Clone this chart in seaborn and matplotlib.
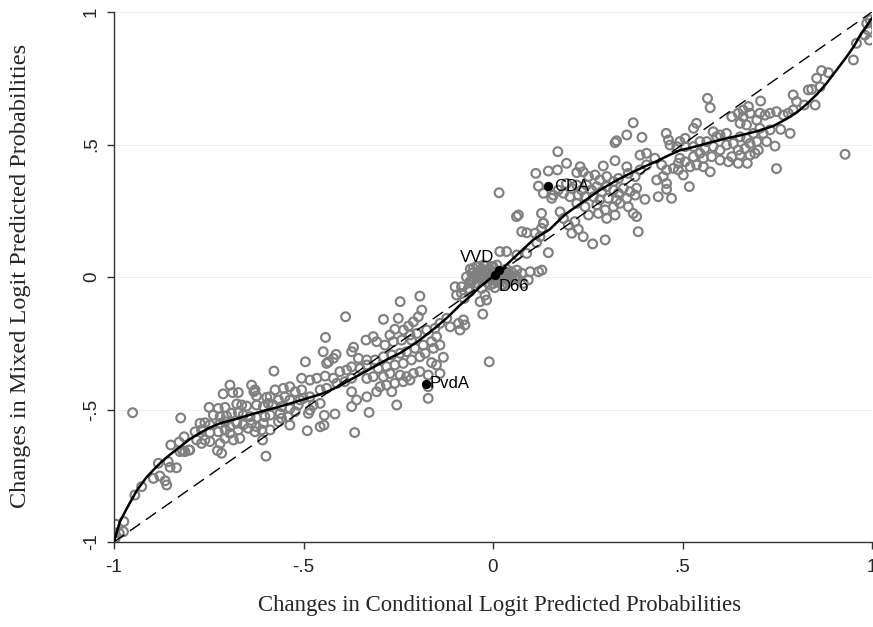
import matplotlib
matplotlib.use("Agg")
import matplotlib.pyplot as plt
import seaborn as sns
import pandas as pd

# ---------------- data ----------------
# Changes in Conditional Logit predicted probabilities (x)
cl_change = [
    # lower-left tail
    -0.951, -0.824, -0.995, -0.974, -0.975, -0.986, -0.997, -0.945, -0.927, -0.896,
    -0.879, -0.865, -0.861, -0.883, -0.857, -0.835, -0.852, -0.850, -0.828, -0.815,
    -0.819, -0.802, -0.826,
    # band -0.8 .. -0.6
    -0.712, -0.687, -0.672, -0.631, -0.624, -0.597, -0.749, -0.725, -0.707, -0.676,
    -0.663, -0.650, -0.624, -0.606, -0.593, -0.738, -0.720, -0.703, -0.690, -0.672,
    -0.659, -0.641, -0.624, -0.602, -0.773, -0.760, -0.747, -0.720, -0.707, -0.694,
    -0.676, -0.659, -0.637, -0.624, -0.606, -0.786, -0.769, -0.747, -0.725, -0.707,
    -0.694, -0.672, -0.646, -0.628, -0.610, -0.782, -0.760, -0.747, -0.720, -0.707,
    -0.685, -0.668, -0.608, -0.813, -0.800, -0.727, -0.716, -0.599, -0.769,
    # band -0.6 .. -0.33
    -0.389, -0.335, -0.442, -0.448, -0.414, -0.421, -0.434, -0.439, -0.368, -0.373,
    -0.355, -0.333, -0.373, -0.351, -0.333, -0.333, -0.495, -0.578, -0.505, -0.483,
    -0.465, -0.443, -0.421, -0.404, -0.386, -0.412, -0.391, -0.373, -0.373, -0.360,
    -0.333, -0.373, -0.327, -0.417, -0.445, -0.456, -0.446, -0.490, -0.365, -0.694,
    -0.637, -0.628, -0.588, -0.575, -0.553, -0.536, -0.522, -0.505, -0.549, -0.566,
    -0.536, -0.509, -0.483, -0.580, -0.558, -0.536, -0.514, -0.588, -0.562, -0.540,
    -0.522, -0.487, -0.566, -0.536, -0.588, -0.558, -0.500, -0.474, -0.456, -0.439,
    -0.456, -0.483,
    # band -0.33 .. 0
    -0.193, -0.245, -0.289, -0.250, -0.188, -0.197, -0.210, -0.223, -0.236, -0.259,
    -0.272, -0.316, -0.307, -0.285, -0.263, -0.241, -0.219, -0.201, -0.175, -0.153,
    -0.140, -0.122, -0.113, -0.091, -0.078, -0.074, -0.087, -0.149, -0.162, -0.184,
    -0.206, -0.228, -0.245, -0.267, -0.289, -0.311, -0.157, -0.140, -0.179, -0.193,
    -0.215, -0.237, -0.259, -0.281, -0.303, -0.316, -0.289, -0.272, -0.245, -0.228,
    -0.210, -0.162, -0.149, -0.131, -0.140, -0.171, -0.219, -0.237, -0.259, -0.281,
    -0.298, -0.307, -0.267, -0.193, -0.171, -0.171, -0.254, -0.010, -0.027, -0.215,
    # centre
    -0.100, -0.083, -0.096, -0.076, -0.061, -0.052, -0.039, -0.030, -0.021, -0.017,
    -0.061, -0.030, -0.008, 0.023, 0.036, 0.049, 0.063, 0.076, 0.098, 0.120,
    0.129, 0.063, 0.089, 0.076, 0.089, 0.133, 0.111, 0.036, 0.018, -0.021,
    -0.004, -0.043, -0.052, -0.056, -0.052, -0.043, -0.034, -0.065, -0.083, -0.034,
    -0.056, 0.058, 0.049, 0.036, 0.093, 0.080,
    -0.040, -0.030, -0.020, -0.010, 0.000, 0.010, -0.040, -0.030, -0.020, -0.010,
    0.000, 0.020, 0.030, 0.040, 0.050, 0.060, -0.030, -0.020, -0.010, 0.000,
    0.010, 0.020, 0.030, 0.040, 0.050, -0.015, 0.000, 0.015, 0.025, -0.045,
    0.065, 0.035, -0.025, 0.005, -0.060, -0.070,
    # band 0 .. 0.5
    0.370, 0.353, 0.326, 0.322, 0.393, 0.457, 0.463, 0.467, 0.485, 0.171,
    0.194, 0.113, 0.146, 0.170, 0.120, 0.133, 0.159, 0.155, 0.322, 0.291,
    0.230, 0.238, 0.221, 0.252, 0.269, 0.282, 0.300, 0.318, 0.331, 0.353,
    0.357, 0.375, 0.388, 0.405, 0.388, 0.405, 0.427, 0.445, 0.458, 0.476,
    0.449, 0.432, 0.458, 0.458, 0.436, 0.471, 0.401, 0.194, 0.208, 0.221,
    0.234, 0.247, 0.260, 0.274, 0.287, 0.300, 0.318, 0.331, 0.344, 0.362,
    0.375, 0.379, 0.353, 0.326, 0.304, 0.282, 0.265, 0.243, 0.225, 0.203,
    0.186, 0.172, 0.221, 0.243, 0.274, 0.296, 0.318, 0.335, 0.357, 0.252,
    0.278, 0.300, 0.322, 0.370, 0.379, 0.383, 0.296, 0.263, 0.225, 0.238,
    0.208, 0.199, 0.216, 0.186, 0.177, 0.128, 0.133, 0.128, 0.124, 0.146,
    0.115, 0.062, 0.067, 0.016,
    # band 0.5 .. 1
    0.986, 0.990, 0.981, 0.993, 0.995, 0.959, 0.951, 0.929, 0.867, 0.885,
    0.854, 0.863, 0.841, 0.832, 0.850, 0.821, 0.801, 0.792, 0.566, 0.573,
    0.706, 0.784, 0.759, 0.744, 0.748, 0.671, 0.647, 0.573, 0.555, 0.518,
    0.529, 0.537, 0.507, 0.493, 0.546, 0.559, 0.581, 0.590, 0.581, 0.599,
    0.616, 0.630, 0.647, 0.660, 0.674, 0.678, 0.660, 0.652, 0.669, 0.696,
    0.704, 0.718, 0.731, 0.748, 0.766, 0.779, 0.792, 0.704, 0.687, 0.669,
    0.652, 0.634, 0.616, 0.599, 0.577, 0.555, 0.529, 0.507, 0.489, 0.489,
    0.502, 0.520, 0.537, 0.621, 0.630, 0.647, 0.665, 0.678, 0.696, 0.700,
    0.691, 0.678, 0.713, 0.731, 0.722, 0.652, 0.599, 0.493, 0.546, 0.564,
    0.507, 0.529,
]
# Changes in Mixed Logit predicted probabilities (y)
ml_change = [
    -0.512, -0.532, -0.933, -0.923, -0.961, -0.967, -0.986, -0.823, -0.791, -0.760,
    -0.751, -0.769, -0.785, -0.703, -0.697, -0.720, -0.718, -0.634, -0.623, -0.603,
    -0.655, -0.653, -0.659,
    -0.441, -0.436, -0.436, -0.433, -0.449, -0.454, -0.492, -0.496, -0.492, -0.479,
    -0.483, -0.487, -0.483, -0.489, -0.477, -0.521, -0.527, -0.525, -0.514, -0.512,
    -0.521, -0.527, -0.530, -0.527, -0.552, -0.550, -0.558, -0.552, -0.546, -0.565,
    -0.552, -0.558, -0.552, -0.565, -0.552, -0.584, -0.577, -0.587, -0.584, -0.577,
    -0.590, -0.577, -0.571, -0.584, -0.577, -0.615, -0.615, -0.621, -0.628, -0.609,
    -0.615, -0.609, -0.615, -0.659, -0.653, -0.655, -0.665, -0.676, -0.628,
    -0.150, -0.238, -0.228, -0.282, -0.292, -0.307, -0.320, -0.326, -0.265, -0.282,
    -0.307, -0.313, -0.339, -0.345, -0.332, -0.383, -0.320, -0.355, -0.382, -0.389,
    -0.382, -0.374, -0.382, -0.357, -0.351, -0.401, -0.395, -0.382, -0.433, -0.464,
    -0.452, -0.489, -0.511, -0.517, -0.522, -0.565, -0.559, -0.580, -0.587, -0.408,
    -0.408, -0.426, -0.452, -0.426, -0.420, -0.414, -0.433, -0.426, -0.452, -0.464,
    -0.464, -0.464, -0.452, -0.483, -0.489, -0.496, -0.483, -0.521, -0.515, -0.527,
    -0.508, -0.515, -0.546, -0.559, -0.577, -0.533, -0.458, -0.483, -0.426, -0.420,
    -0.477, -0.502,
    -0.072, -0.093, -0.160, -0.156, -0.125, -0.150, -0.169, -0.185, -0.200, -0.197,
    -0.219, -0.225, -0.244, -0.257, -0.244, -0.238, -0.219, -0.213, -0.200, -0.194,
    -0.175, -0.156, -0.188, -0.175, -0.162, -0.181, -0.200, -0.225, -0.244, -0.257,
    -0.269, -0.282, -0.288, -0.294, -0.301, -0.313, -0.269, -0.257, -0.288, -0.301,
    -0.313, -0.326, -0.332, -0.338, -0.345, -0.376, -0.376, -0.364, -0.370, -0.376,
    -0.364, -0.323, -0.332, -0.303, -0.364, -0.370, -0.389, -0.395, -0.401, -0.408,
    -0.414, -0.433, -0.433, -0.357, -0.414, -0.458, -0.483, -0.320, -0.140, -0.238,
    -0.037, -0.037, -0.068, -0.081, -0.018, 0.001, 0.014, 0.026, -0.068, -0.087,
    -0.055, -0.043, -0.030, 0.014, -0.005, 0.020, 0.026, 0.014, 0.020, 0.020,
    0.026, 0.083, 0.089, 0.171, 0.167, 0.203, 0.165, 0.096, 0.096, 0.026,
    0.039, 0.039, 0.033, 0.014, -0.011, -0.024, 0.001, -0.043, -0.062, -0.093,
    -0.018, 0.001, -0.011, -0.024, -0.011, -0.024,
    0.040, 0.030, 0.040, 0.030, 0.040, 0.045, 0.020, 0.010, 0.020, 0.015,
    0.020, 0.010, 0.020, 0.010, 0.000, 0.005, -0.010, -0.005, 0.000, -0.010,
    0.000, -0.010, -0.005, -0.015, -0.010, -0.020, -0.025, -0.020, -0.030, 0.005,
    -0.005, 0.030, 0.045, -0.040, 0.030, 0.000,
    0.582, 0.536, 0.514, 0.507, 0.527, 0.542, 0.517, 0.498, 0.492, 0.473,
    0.429, 0.391, 0.400, 0.404, 0.343, 0.316, 0.309, 0.297, 0.439, 0.419,
    0.416, 0.397, 0.394, 0.379, 0.385, 0.366, 0.379, 0.360, 0.372, 0.416,
    0.391, 0.379, 0.404, 0.423, 0.460, 0.467, 0.448, 0.423, 0.404, 0.410,
    0.379, 0.366, 0.353, 0.331, 0.303, 0.297, 0.293, 0.353, 0.335, 0.347,
    0.328, 0.347, 0.328, 0.341, 0.322, 0.341, 0.328, 0.316, 0.335, 0.322,
    0.309, 0.335, 0.297, 0.291, 0.297, 0.291, 0.303, 0.303, 0.309, 0.303,
    0.316, 0.328, 0.278, 0.265, 0.272, 0.253, 0.265, 0.278, 0.265, 0.234,
    0.240, 0.221, 0.234, 0.240, 0.228, 0.171, 0.140, 0.125, 0.180, 0.152,
    0.165, 0.196, 0.209, 0.221, 0.246, 0.240, 0.203, 0.184, 0.152, 0.092,
    0.130, 0.228, 0.234, 0.318,
    0.957, 0.932, 0.913, 0.894, 0.970, 0.882, 0.819, 0.463, 0.779, 0.771,
    0.750, 0.718, 0.708, 0.706, 0.649, 0.649, 0.662, 0.687, 0.674, 0.639,
    0.664, 0.542, 0.557, 0.494, 0.409, 0.429, 0.429, 0.397, 0.416, 0.341,
    0.561, 0.580, 0.523, 0.511, 0.467, 0.485, 0.492, 0.529, 0.548, 0.536,
    0.542, 0.605, 0.618, 0.630, 0.643, 0.618, 0.605, 0.580, 0.574, 0.592,
    0.618, 0.611, 0.618, 0.624, 0.611, 0.618, 0.630, 0.561, 0.542, 0.523,
    0.529, 0.504, 0.498, 0.479, 0.454, 0.448, 0.454, 0.435, 0.429, 0.404,
    0.385, 0.416, 0.423, 0.435, 0.454, 0.479, 0.485, 0.504, 0.511, 0.479,
    0.467, 0.460, 0.542, 0.555, 0.511, 0.460, 0.441, 0.448, 0.511, 0.511,
    0.492, 0.492,
]

# Highlighted parties
party_names = ["CDA", "VVD", "D66", "PvdA"]
party_x = [0.146, 0.015, 0.004, -0.178]
party_y = [0.342, 0.026, 0.008, -0.402]

# Smoothed (lowess) curve
fit_x = [-1.000, -0.985, -0.965, -0.940, -0.915, -0.896, -0.875, -0.852, -0.825, -0.800,
         -0.775, -0.747, -0.720, -0.694, -0.660, -0.632, -0.600, -0.570, -0.544, -0.500,
         -0.456, -0.430, -0.404, -0.378, -0.351, -0.325, -0.298, -0.270, -0.245, -0.200,
         -0.149, -0.120, -0.087, -0.060, -0.034, -0.010, 0.015, 0.040, 0.063, 0.085,
         0.106, 0.130, 0.150, 0.175, 0.194, 0.240, 0.282, 0.325, 0.370, 0.400,
         0.432, 0.465, 0.493, 0.528, 0.571, 0.616, 0.660, 0.704, 0.740, 0.775,
         0.805, 0.828, 0.855, 0.880, 0.905, 0.933, 0.952, 0.968, 0.985, 0.999]
fit_y = [-1.000, -0.925, -0.870, -0.806, -0.757, -0.728, -0.698, -0.670, -0.640, -0.612,
         -0.590, -0.568, -0.552, -0.542, -0.528, -0.516, -0.503, -0.492, -0.481, -0.462,
         -0.443, -0.428, -0.410, -0.389, -0.368, -0.348, -0.326, -0.304, -0.287, -0.245,
         -0.188, -0.152, -0.106, -0.072, -0.037, -0.009, 0.018, 0.052, 0.083, 0.112,
         0.140, 0.162, 0.180, 0.215, 0.240, 0.286, 0.328, 0.364, 0.397, 0.417,
         0.437, 0.460, 0.478, 0.490, 0.507, 0.523, 0.537, 0.553, 0.570, 0.597,
         0.625, 0.653, 0.690, 0.731, 0.778, 0.831, 0.870, 0.910, 0.945, 0.976]

# 45-degree reference line
diag_x = [-1, 1]
diag_y = [-1, 1]

ticks = [-1, -0.5, 0, 0.5, 1]
tick_labels = ["-1", "-.5", "0", ".5", "1"]

# ---------------- plot ----------------
sns.set_style("white")
plt.rcParams["font.family"] = ["Liberation Sans", "DejaVu Sans"]

fig = plt.figure(figsize=(8.73, 6.27), dpi=100)
ax = fig.add_axes([114 / 873, 85 / 627, 758 / 873, 530 / 627])

for t in ticks:
    ax.axhline(t, color="#eeeeee", lw=0.8, zorder=0)

pts = pd.DataFrame({"x": cl_change, "y": ml_change})
sns.scatterplot(data=pts, x="x", y="y", ax=ax, marker="o", s=40,
                facecolors="none", edgecolor="#808080", linewidth=1.55, zorder=2)

sns.lineplot(x=diag_x, y=diag_y, ax=ax, color="black", lw=1.0,
             dashes=False, linestyle=(0, (9, 5)), zorder=3)
sns.lineplot(x=fit_x, y=fit_y, ax=ax, color="black", lw=1.8, sort=False,
             estimator=None, zorder=4)

party = pd.DataFrame({"x": party_x, "y": party_y, "name": party_names})
sns.scatterplot(data=party, x="x", y="y", ax=ax, color="black", s=45,
                edgecolor="black", linewidth=0, zorder=5)
offsets = {"CDA": (4, 0, "left", "center"), "VVD": (-3, 4, "right", "bottom"),
           "D66": (3, -3, "left", "top"), "PvdA": (3, 0, "left", "center")}
for n, x, y in zip(party_names, party_x, party_y):
    dx, dy, ha, va = offsets[n]
    ax.annotate(n, (x, y), xytext=(dx, dy), textcoords="offset points",
                ha=ha, va=va, fontsize=12, color="black", zorder=6)

ax.set_xlim(-1, 1)
ax.set_ylim(-1, 1)
ax.set_xticks(ticks)
ax.set_xticklabels(tick_labels)
ax.set_yticks(ticks)
ax.set_yticklabels(tick_labels, rotation=90, va="center")
ax.tick_params(axis="both", which="major", direction="out", length=5, width=1,
               color="#333333", labelsize=13.5, left=True, bottom=True)
ax.tick_params(axis="x", pad=7)
ax.tick_params(axis="y", pad=5)

for side in ["top", "right"]:
    ax.spines[side].set_visible(False)
for side in ["left", "bottom"]:
    ax.spines[side].set_color("#333333")
    ax.spines[side].set_linewidth(1.0)

ax.set_xlabel("Changes in Conditional Logit Predicted Probabilities",
              family=["Liberation Serif", "DejaVu Serif"], fontsize=16.4, va="center")
ax.set_ylabel("Changes in Mixed Logit Predicted Probabilities",
              family=["Liberation Serif", "DejaVu Serif"], fontsize=17.5, va="center")
ax.xaxis.set_label_coords(0.508, -0.119)
ax.yaxis.set_label_coords(-0.124, 0.502)

fig.savefig("out.png", dpi=100)
